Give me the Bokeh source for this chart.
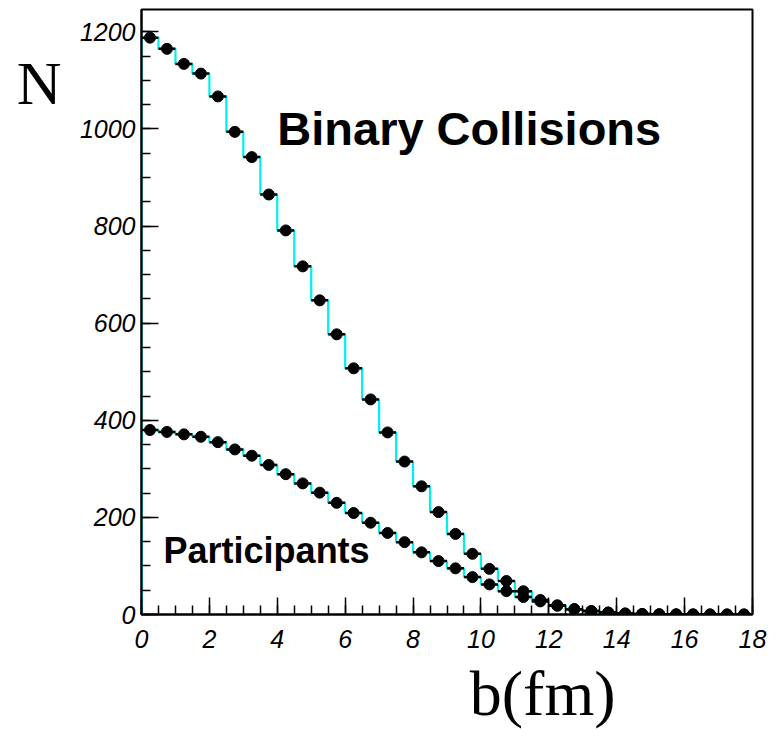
from bokeh.plotting import figure
from bokeh.models import Range1d, FixedTicker, Label, Title, LinearAxis
from bokeh.embed import file_html
from bokeh.resources import INLINE

# Impact-parameter bins (0.5 fm wide), centres at 0.25, 0.75, ...
bin_width = 0.5
b_centers = [0.25 + 0.5 * i for i in range(36)]

# Mean number of binary nucleon-nucleon collisions per bin
binary = [1188, 1165, 1134, 1114, 1067, 994, 942, 865, 791, 717, 647, 577,
          507, 443, 375, 315, 264, 211, 166, 125, 94, 69, 48, 30,
          19, 11, 7, 4, 2, 1, 0.5, 0.3, 0.2, 0.1, 0.1, 0.1]

# Mean number of participant nucleons per bin
participants = [380, 376, 371, 366, 355, 340, 327, 308, 289, 270, 251, 230,
                209, 189, 168, 149, 128, 110, 95, 77, 62, 48, 36, 27,
                18, 11, 7, 4, 2, 1, 0.5, 0.3, 0.2, 0.1, 0.1, 0.0]

x_ticks = [0, 2, 4, 6, 8, 10, 12, 14, 16, 18]
y_ticks = [0, 200, 400, 600, 800, 1000, 1200]

p = figure(width=778, height=738, output_backend="svg", toolbar_location=None,
           x_range=Range1d(0, 18), y_range=Range1d(0, 1246),
           min_border_left=141, min_border_right=26,
           min_border_top=9, min_border_bottom=124)
p.xgrid.visible = False
p.ygrid.visible = False
p.outline_line_color = "black"
p.outline_line_width = 2
p.background_fill_color = "white"
p.border_fill_color = "white"

for ax, ticks, minor, standoff in (
        (p.xaxis[0], x_ticks, [0.5 * i for i in range(37)], 15),
        (p.yaxis[0], y_ticks, [50 * i for i in range(25)], 6)):
    ax.ticker = FixedTicker(ticks=ticks, minor_ticks=minor)
    ax.axis_line_width = 2
    ax.axis_line_color = "black"
    ax.major_tick_in = 17
    ax.major_tick_out = 0
    ax.minor_tick_in = 9
    ax.minor_tick_out = 0
    ax.major_tick_line_width = 1.5
    ax.minor_tick_line_width = 1.5
    ax.major_label_text_font = "Liberation Sans"
    ax.major_label_text_font_style = "italic"
    ax.major_label_text_font_size = "25px"
    ax.major_label_text_color = "black"
    ax.major_label_standoff = standoff


def step_outline(values):
    # histogram outline starting from zero at the left edge
    xs, ys = [0.0], [0.0]
    for c, v in zip(b_centers, values):
        lo, hi = c - bin_width / 2, c + bin_width / 2
        xs += [lo, hi]
        ys += [v, v]
    return xs, ys


for series in (binary, participants):
    xs, ys = step_outline(series)
    p.line(xs, ys, line_color="#00f0f0", line_width=2.2)

for series in (binary, participants):
    p.segment(x0=[c - bin_width / 2 for c in b_centers], y0=series,
              x1=[c + bin_width / 2 for c in b_centers], y1=series,
              line_color="black", line_width=2.5, line_dash="3 11")
    p.scatter(b_centers, series, size=11, marker="circle",
              fill_color="black", line_color="black")

p.add_layout(Label(x=4.0, y=947, text="Binary Collisions",
                   text_font="Liberation Sans", text_font_style="bold",
                   text_font_size="47px", text_color="black"))
p.add_layout(Label(x=0.65, y=90, text="Participants",
                   text_font="Liberation Sans", text_font_style="bold",
                   text_font_size="36px", text_color="black"))

# "N" title to the upper left of the vertical axis, drawn as a bare axis
n_axis = LinearAxis(ticker=FixedTicker(ticks=[1095], minor_ticks=[]),
                    major_label_overrides={1095: "N"},
                    axis_line_color=None, major_tick_line_color=None,
                    minor_tick_line_color=None, major_label_standoff=9,
                    major_label_text_font="Liberation Serif",
                    major_label_text_font_size="62px",
                    major_label_text_color="black")
p.add_layout(n_axis, "left")

# horizontal axis title, right of centre below the tick labels
p.add_layout(Title(text="b(fm)", align="right", offset=137,
                   text_font="Liberation Serif", text_font_size="64px",
                   text_font_style="normal", text_color="black"), "below")

open("out.html", "w").write(file_html(p, INLINE))
